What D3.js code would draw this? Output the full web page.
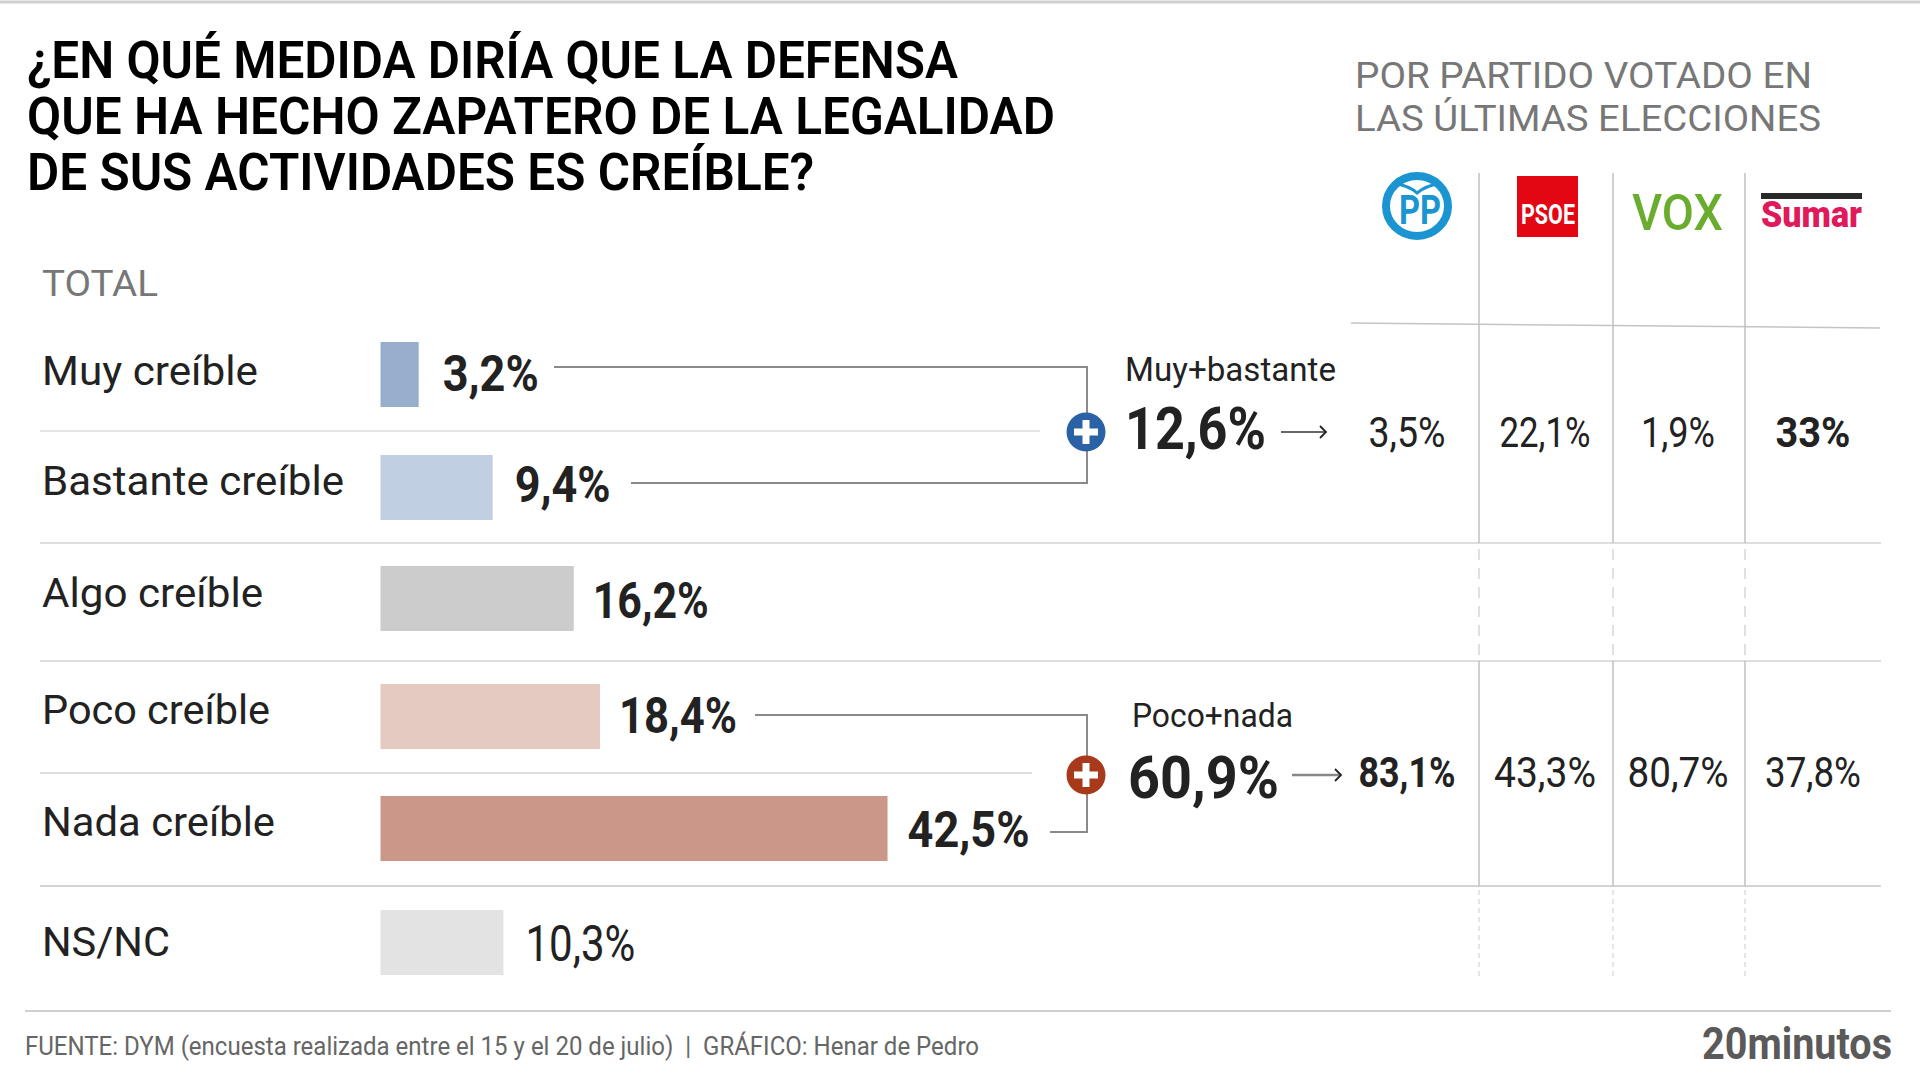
<!DOCTYPE html>
<html>
<head>
<meta charset="utf-8">
<style>
    body { margin: 0; background: #fff; }
    svg { display: block; }
    text { font-family: Roboto, sans-serif; }
</style>
</head>
<body>
<div id="containerChart"></div>
<script src="https://cdn.jsdelivr.net/npm/d3@7"></script>
<script>
    // data
    var categories = ["Muy creíble", "Bastante creíble", "Algo creíble", "Poco creíble", "Nada creíble", "NS/NC"];
    var totals = [3.2, 9.4, 16.2, 18.4, 42.5, 10.3];
    var parties = ["PP", "PSOE", "VOX", "Sumar"];
    var muyBastante = [3.5, 22.1, 1.9, 33];
    var pocoNada = [83.1, 43.3, 80.7, 37.8];
    var groupNames = ["Muy+bastante", "Poco+nada"];
    var groupTotals = [12.6, 60.9];
    var titleLines = ["¿EN QUÉ MEDIDA DIRÍA QUE LA DEFENSA", "QUE HA HECHO ZAPATERO DE LA LEGALIDAD", "DE SUS ACTIVIDADES ES CREÍBLE?"];
    var subtitleLines = ["POR PARTIDO VOTADO EN", "LAS ÚLTIMAS ELECCIONES"];

    // layout
    var barColors = ["#98aecd", "#c0cfe1", "#cccccc", "#e5cac2", "#ca9788", "#e3e3e3"];
    var barTops = [342, 455, 566, 684, 796, 910];
    var barHeight = 65;
    var labelY = [385, 495, 607, 724, 836, 956];
    var labelW = [216, 302, 221, 228, 233, 128];
    var valueY = [391, 502, 618, 733, 847, 961];
    var valueW = [96, 96, 116, 118, 122, 110];
    var valueGap = [24, 22, 19, 19, 20, 22];
    var colX = [1407, 1545, 1678, 1813];
    var colLines = [1479, 1613, 1745];
    var rowW = [[77, 91, 74, 75], [97, 102, 101, 96]];
    var rowY = [447, 787];

    var fmt = function (v) { return String(v).replace(".", ",") + "%"; };

    var svg = d3.select("#containerChart")
        .append("svg")
        .attr("width", 1920)
        .attr("height", 1080);

    var xScale = d3.scaleLinear().domain([0, 100]).range([380.5, 1573.5]);
    var yScale = d3.scaleOrdinal().domain(categories).range(barTops);
    var colScale = d3.scaleOrdinal().domain(parties).range(colX);

    function put(x, y, str, size, weight, color, w, anchor) {
        var t = svg.append("text")
            .attr("x", x)
            .attr("y", y)
            .attr("font-size", size)
            .attr("font-weight", weight)
            .attr("fill", color)
            .text(str);
        if (anchor) t.attr("text-anchor", anchor);
        if (w) t.attr("textLength", w).attr("lengthAdjust", "spacingAndGlyphs");
        return t;
    }

    function rule(x1, y1, x2, y2, color, width, dash) {
        var l = svg.append("line")
            .attr("x1", x1).attr("y1", y1)
            .attr("x2", x2).attr("y2", y2)
            .attr("stroke", color)
            .attr("stroke-width", width);
        if (dash) l.attr("stroke-dasharray", dash);
        return l;
    }

    // header
    rule(0, 2, 1920, 2, "#cfcfcf", 3);
    put(27, 78, titleLines[0], 52, 600, "#000", 931);
    put(27, 134, titleLines[1], 52, 600, "#000", 1028);
    put(27, 190, titleLines[2], 52, 600, "#000", 787);
    put(1355, 88, subtitleLines[0], 37, 400, "#777", 457);
    put(1355, 131, subtitleLines[1], 37, 400, "#777", 466);
    put(42, 296, "TOTAL", 37, 400, "#777", 116);

    // row separators
    rule(40, 431, 1040, 431, "#e6e6e6", 2);
    rule(40, 543, 1881, 543, "#dedede", 2);
    rule(40, 661, 1881, 661, "#dedede", 2);
    rule(40, 773, 1032, 773, "#dedede", 2);
    rule(40, 886, 1881, 886, "#d4d4d4", 2);
    rule(25, 1011, 1891, 1011, "#cfcfcf", 2);
    rule(1351, 323, 1880, 328, "#c4c4c4", 1.5);

    // party columns
    colLines.forEach(function (x) {
        rule(x, 173, x, 543, "#c0c0c0", 1.5);
        rule(x, 549, x, 661, "#cccccc", 1.2, "11 8");
        rule(x, 661, x, 886, "#c0c0c0", 1.5);
        rule(x, 890, x, 978, "#cccccc", 1, "5 4");
    });

    // bars
    svg.selectAll("rect.bar")
        .data(totals)
        .enter().append("rect")
        .attr("class", "bar")
        .attr("x", xScale(0))
        .attr("y", function (d, i) { return yScale(categories[i]); })
        .attr("width", function (d) { return xScale(d) - xScale(0); })
        .attr("height", barHeight)
        .attr("fill", function (d, i) { return barColors[i]; });

    categories.forEach(function (c, i) {
        put(42, labelY[i], c, 41, 400, "#222", labelW[i]);
        put(xScale(totals[i]) + valueGap[i], valueY[i], fmt(totals[i]), 50, i == 5 ? 400 : 700, "#222", valueW[i]);
    });

    // brackets
    var bracket = function (x1, y1, x2, y2, xv) {
        svg.append("path")
            .attr("d", "M" + x1 + "," + y1 + "H" + xv + "V" + y2 + "H" + x2)
            .attr("fill", "none")
            .attr("stroke", "#8a8a8a")
            .attr("stroke-width", 2);
    };
    bracket(554, 367, 631, 483, 1087);
    bracket(755, 715, 1050, 832, 1087);

    function plus(cx, cy, color) {
        svg.append("ellipse")
            .attr("cx", cx).attr("cy", cy)
            .attr("rx", 19.5).attr("ry", 19.5)
            .attr("fill", color);
        rule(cx - 12, cy, cx + 12, cy, "#fff", 7);
        rule(cx, cy - 12, cx, cy + 12, "#fff", 7);
    }
    plus(1086, 432, "#2a62a5");
    plus(1086, 775, "#a83a1b");

    // group totals
    put(1125, 381, groupNames[0], 34, 400, "#222", 211);
    put(1125, 449, fmt(groupTotals[0]), 60, 700, "#222", 141);
    put(1132, 727, groupNames[1], 34, 400, "#222", 161);
    put(1128, 798, fmt(groupTotals[1]), 60, 700, "#222", 151);

    function arrow(x1, x2, y, color, width) {
        rule(x1, y, x2, y, color, width);
        svg.append("path")
            .attr("d", "M" + (x2 - 6) + "," + (y - 6) + "L" + x2 + "," + y + "L" + (x2 - 6) + "," + (y + 6))
            .attr("fill", "none")
            .attr("stroke", "#222")
            .attr("stroke-width", 1.8);
    }
    arrow(1281, 1326, 432, "#333", 1.6);
    arrow(1292, 1341, 775, "#888", 2.5);

    // party values
    [muyBastante, pocoNada].forEach(function (row, r) {
        row.forEach(function (v, i) {
            put(colScale(parties[i]), rowY[r], fmt(v), 42, v === d3.max(row) ? 700 : 400, "#222", rowW[r][i], "middle");
        });
    });

    // logos
    svg.append("ellipse")
        .attr("cx", 1417).attr("cy", 206)
        .attr("rx", 31).attr("ry", 30)
        .attr("fill", "none")
        .attr("stroke", "#1b95d2")
        .attr("stroke-width", 8);
    svg.append("path")
        .attr("d", "M1393,183Q1410,186 1417,193Q1425,186 1441,183")
        .attr("fill", "none")
        .attr("stroke", "#1b95d2")
        .attr("stroke-width", 3);
    put(1399, 224, parties[0], 40, 700, "#1b95d2", 42);
    svg.append("rect").attr("x", 1517).attr("y", 176).attr("width", 61).attr("height", 61).attr("fill", "#e30613");
    put(1521, 224, parties[1], 27, 700, "#fff", 54);
    put(1632, 230, parties[2], 50, 500, "#6aad2e", 91);
    svg.append("rect").attr("x", 1761).attr("y", 193).attr("width", 101).attr("height", 6).attr("fill", "#2a2a2a");
    put(1761, 227, parties[3], 37, 900, "#e0195a", 101);

    // footer
    put(25, 1055, "FUENTE: DYM (encuesta realizada entre el 15 y el 20 de julio)  |  GRÁFICO: Henar de Pedro", 25, 400, "#666", 954).attr("xml:space", "preserve");
    put(1702, 1059, "20minutos", 44, 700, "#5a5a5a", 190);
</script>
</body>
</html>
